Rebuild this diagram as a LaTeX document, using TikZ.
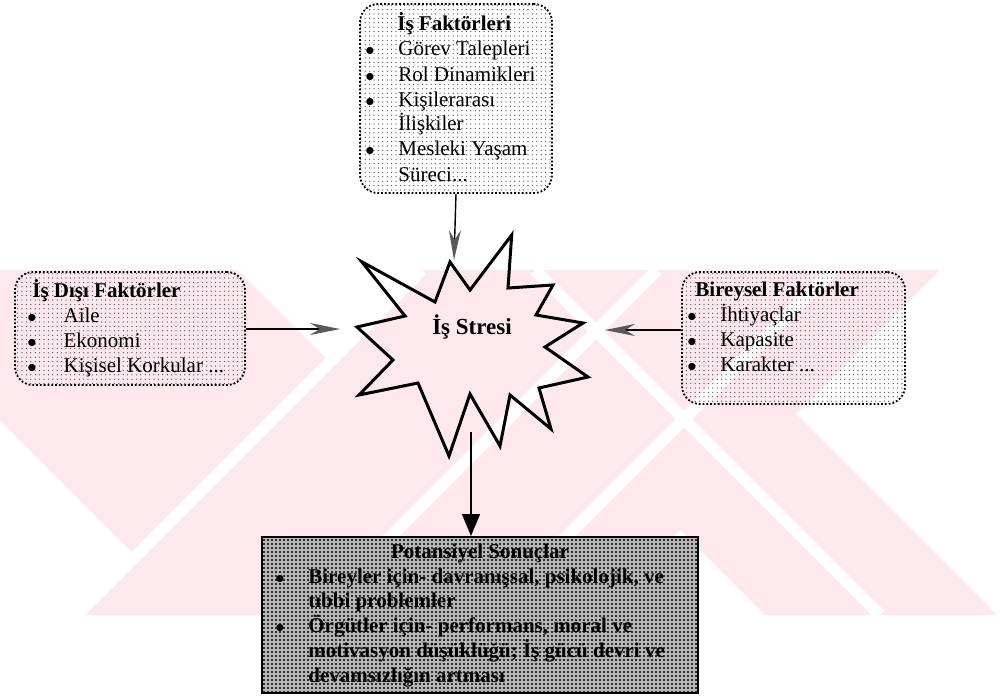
\documentclass[tikz,border=0pt]{standalone}
\usepackage{fontspec}
\setmainfont{Liberation Serif}
\usetikzlibrary{positioning,arrows.meta,patterns.meta}
\definecolor{yokpembe}{RGB}{253,232,237}
\newcommand{\madde}[1][16.5pt]{\makebox[#1][l]{{\fontsize{9}{9}\selectfont$\bullet$}}}
\newcommand{\satirlar}[1]{\begin{tabular}[t]{@{}l@{}}#1\end{tabular}}
\tikzset{
  kutu/.style={draw, densely dotted, line width=0.9pt, rounded corners=9pt,
    pattern={Dots[distance=2.2pt,radius=0.32pt]}, pattern color=black!75},
  sonuckutu/.style={draw, line width=1pt,
    preaction={fill=black!28}, pattern={Dots[distance=2pt,radius=0.55pt]}, pattern color=black},
  liste/.style={anchor=base west, inner sep=0pt,
    font=\fontsize{10.5}{12.5}\selectfont},
  yildiz/.style={line width=1.5pt, line join=miter},
  okucu/.style={line width=0.7pt, -{Stealth[length=15pt,width=6pt,color=black!65]}},
  anaok/.style={line width=0.7pt, -{Triangle[length=11pt,width=9pt]}}
}
\begin{document}
\begin{tikzpicture}[x=0.5pt,y=-0.5pt]
\useasboundingbox (0,0) rectangle (1001,696);
% filigran
\begin{scope}
  \clip (0,270) rectangle (1001,615);
  \fill[yokpembe] (-150,270) -- (238,270) -- (583,615) -- (195,615) -- cycle;
  \fill[yokpembe] (420,270) -- (652,270) -- (997,615) -- (765,615) -- cycle;
  \fill[yokpembe] (422,270) -- (940,270) -- (595,615) -- (77,615) -- cycle;
  \foreach \s in {692,927,1103}
    \draw[white, line width=6pt] (\s-270,270) -- (\s-615,615);
  \draw[white, line width=6pt] (535,270) -- (880,615);
\end{scope}

% kutular
\node[kutu, minimum width=96pt, minimum height=94.5pt] (isfaktor) at (456,98.5) {};
\node[kutu, minimum width=115pt, minimum height=56.5pt] (isdisi) at (130,328.5) {};
\node[kutu, minimum width=111.5pt, minimum height=66pt] (bireysel) at (793.5,338) {};
\node[sonuckutu, minimum width=218pt, minimum height=78pt] (sonuc) at (480,615) {};

\node[liste] (isfaktor-liste) at (365,31) {\satirlar{\hspace*{16pt}\textbf{İş Faktörleri}\\
  \madde Görev Talepleri\\ \madde Rol Dinamikleri\\ \madde Kişilerarası\\
  \hspace*{16.5pt}İlişkiler\\ \madde Mesleki Yaşam\\ \hspace*{16.5pt}Süreci...}};
\node[liste] (isdisi-liste) at (27,297) {\satirlar{\hspace*{2.5pt}\textbf{İş Dışı Faktörler}\\
  \madde[15.5pt] Aile\\ \madde[15.5pt] Ekonomi\\ \madde[15.5pt] Kişisel Korkular ...}};
\node[liste] (bireysel-liste) at (687,296) {\satirlar{\hspace*{4pt}\textbf{Bireysel Faktörler}\\
  \madde İhtiyaçlar\\ \madde Kapasite\\ \madde Karakter ...}};
\node[anchor=base, inner sep=0pt, font=\fontsize{10.5}{12.5}\selectfont\bfseries]
  (sonuc-baslik) at (480,558) {Potansiyel Sonuçlar};
\node[liste, font=\fontsize{10.5}{12.3}\selectfont\bfseries] (sonuc-liste) at (275,583)
  {\satirlar{\madde Bireyler için- davranışsal, psikolojik, ve\\
   \hspace*{16.5pt}tıbbi problemler\\
   \madde Örgütler için- performans, moral ve\\
   \hspace*{16.5pt}motivasyon düşüklüğü; İş gücü devri ve\\
   \hspace*{16.5pt}devamsızlığın artması}};

% is stresi
\draw[yildiz] (361.7,261.7) -- (435,302) -- (450,262) -- (470,290) -- (511.7,235)
  -- (508,288) -- (553,285) -- (536,315) -- (583,323) -- (545,347) -- (588,377)
  -- (539,388) -- (551,429) -- (510,395) -- (500,446) -- (470,394) -- (449,456)
  -- (418,383) -- (359,395) -- (393,360) -- (357,327) -- (405,316) -- cycle;
\node[font=\fontsize{11.5}{13}\selectfont\bfseries] (stres) at (472,327) {İş Stresi};

% oklar
\coordinate (ustuc) at (454,260);
\coordinate (soluc) at (340,329);
\coordinate (saguc) at (605,330);
\coordinate (altbas) at (471,432);
\draw[okucu] (isfaktor.south) -- (ustuc);
\draw[okucu] (isdisi.east |- soluc) -- (soluc);
\draw[okucu] (bireysel.west |- saguc) -- (saguc);
\draw[anaok] (altbas) -- (sonuc.north -| altbas);
\end{tikzpicture}
\end{document}
